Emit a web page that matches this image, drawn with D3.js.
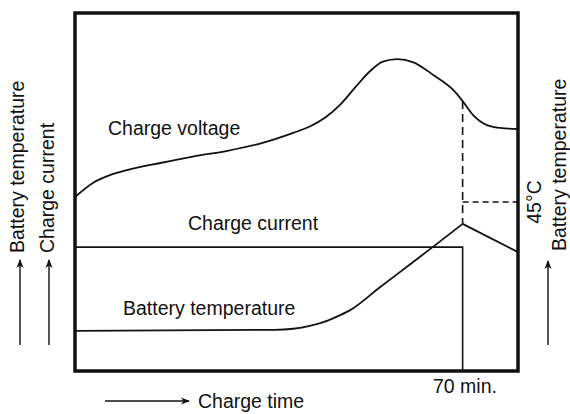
<!DOCTYPE html>
<html>
<head>
<meta charset="utf-8">
<script src="https://cdn.jsdelivr.net/npm/d3@7"></script>
<style>
  body { margin: 0; background: #fff; }
  svg text { font-family: "Liberation Sans", Arial, Helvetica, sans-serif; fill: #111; }
</style>
</head>
<body>
<div id="chart"></div>
<script>
// charge time in minutes, levels are relative (0 = bottom of frame, 100 = top)
var voltageTime  = [0, 3.3, 6.3, 9.4, 15.4, 21.3, 27.5, 33.4, 39.4, 42.4, 45.2, 47.9, 50.6, 53.3, 55.6, 58.2, 61, 64.7, 68.3, 70, 71.9, 74.4, 76.8, 80];
var voltageLevel = [48.6, 52.6, 54.7, 56.1, 58.1, 59.9, 61.5, 63.5, 66.5, 68.3, 70.8, 74.4, 79.2, 83.8, 86.4, 87.1, 86.3, 82.7, 78.5, 75.4, 71.5, 68.7, 67.9, 67.6];

var currentTime  = [0, 70, 70];
var currentLevel = [34.6, 34.6, 0];

var tempTime  = [0, 36, 39.4, 42.4, 45.5, 47.9, 49.7, 55, 60, 65, 70, 80];
var tempLevel = [11.2, 11.5, 11.8, 12.6, 14.0, 15.6, 17.0, 23.3, 29.2, 35.1, 41.1, 33.2];

var cutoffTime = 70;       // "70 min."
var tempLimitLevel = 47.2; // 45°C line
var timeMax = 80;

var labels = {
  voltage: "Charge voltage",
  current: "Charge current",
  temp: "Battery temperature",
  cutoff: "70 min.",
  xAxis: "Charge time",
  limit: "45\u00B0C"
};

var width = 570, height = 414;
var frame = { left: 75, top: 13, right: 518, bottom: 371 };

var svg = d3.select('#chart').append('svg')
    .attr('width', width)
    .attr('height', height);

var x = d3.scaleLinear().domain([0, timeMax]).range([frame.left, frame.right]);
var y = d3.scaleLinear().domain([0, 100]).range([frame.bottom, frame.top]);

// arrow head marker
svg.append('defs').append('marker')
    .attr('id', 'arrow')
    .attr('viewBox', '0 0 10 10')
    .attr('refX', 9).attr('refY', 5)
    .attr('markerWidth', 9).attr('markerHeight', 9)
    .attr('markerUnits', 'userSpaceOnUse')
    .attr('orient', 'auto')
  .append('path')
    .attr('d', 'M0,1 L10,5 L0,9 L3,5 Z')
    .attr('fill', '#111');

function toPoints(ts, vs) {
    return ts.map(function(t, i) { return [t, vs[i]]; });
}

var smoothLine = d3.line()
    .x(function(d) { return x(d[0]); })
    .y(function(d) { return y(d[1]); })
    .curve(d3.curveMonotoneX);

var straightLine = d3.line()
    .x(function(d) { return x(d[0]); })
    .y(function(d) { return y(d[1]); });

// dashed guides: 70 min cutoff and 45°C level
var voltageAtCutoff = voltageLevel[voltageTime.indexOf(cutoffTime)];
var peakIdx = tempTime.indexOf(cutoffTime);
var tempAtCutoff = tempLevel[peakIdx];
svg.append('line')
    .attr('x1', x(cutoffTime)).attr('x2', x(cutoffTime))
    .attr('y1', y(voltageAtCutoff)).attr('y2', y(tempAtCutoff))
    .attr('stroke', '#111').attr('stroke-width', 1.6)
    .attr('stroke-dasharray', '8,5');
svg.append('line')
    .attr('x1', x(cutoffTime)).attr('x2', x(timeMax))
    .attr('y1', y(tempLimitLevel)).attr('y2', y(tempLimitLevel))
    .attr('stroke', '#111').attr('stroke-width', 1.6)
    .attr('stroke-dasharray', '6,4');

// curves
svg.append('path')
    .attr('d', smoothLine(toPoints(voltageTime, voltageLevel)))
    .attr('fill', 'none').attr('stroke', '#111').attr('stroke-width', 1.8);
svg.append('path')
    .attr('d', straightLine(toPoints(currentTime, currentLevel)))
    .attr('fill', 'none').attr('stroke', '#111').attr('stroke-width', 1.6);
// temperature: smooth rise up to the peak, then straight fall
var tempPts = toPoints(tempTime, tempLevel);
svg.append('path')
    .attr('d', smoothLine(tempPts.slice(0, peakIdx + 1)))
    .attr('fill', 'none').attr('stroke', '#111').attr('stroke-width', 1.8);
svg.append('path')
    .attr('d', straightLine(tempPts.slice(peakIdx)))
    .attr('fill', 'none').attr('stroke', '#111').attr('stroke-width', 1.8);

// frame
svg.append('rect')
    .attr('x', frame.left).attr('y', frame.top)
    .attr('width', frame.right - frame.left)
    .attr('height', frame.bottom - frame.top)
    .attr('fill', 'none').attr('stroke', '#111').attr('stroke-width', 3.5);

// curve labels
var fs = 19.5;
svg.append('text').attr('x', 108).attr('y', 135).attr('font-size', fs).text(labels.voltage);
svg.append('text').attr('x', 188).attr('y', 230).attr('font-size', fs).text(labels.current);
svg.append('text').attr('x', 123).attr('y', 315).attr('font-size', fs).text(labels.temp);
svg.append('text').attr('x', 433).attr('y', 393).attr('font-size', fs).text(labels.cutoff);
svg.append('text').attr('x', 198).attr('y', 408).attr('font-size', fs).text(labels.xAxis);

// rotated labels
function vText(px, py, txt, anchor) {
    svg.append('text')
        .attr('transform', 'translate(' + px + ',' + py + ') rotate(-90)')
        .attr('font-size', fs)
        .attr('text-anchor', anchor || 'start')
        .text(txt);
}
vText(24, 253, labels.temp);
vText(54, 253, labels.current);
vText(541, y(tempLimitLevel), labels.limit, 'middle');
vText(566, 251, labels.temp);

// arrows
function arrow(x1, y1, x2, y2) {
    svg.append('line')
        .attr('x1', x1).attr('y1', y1).attr('x2', x2).attr('y2', y2)
        .attr('stroke', '#111').attr('stroke-width', 1.4)
        .attr('marker-end', 'url(#arrow)');
}
arrow(20, 345, 20, 260);
arrow(49, 345, 49, 260);
arrow(548, 345, 548, 261);
arrow(105, 401, 189, 401);
</script>
</body>
</html>
